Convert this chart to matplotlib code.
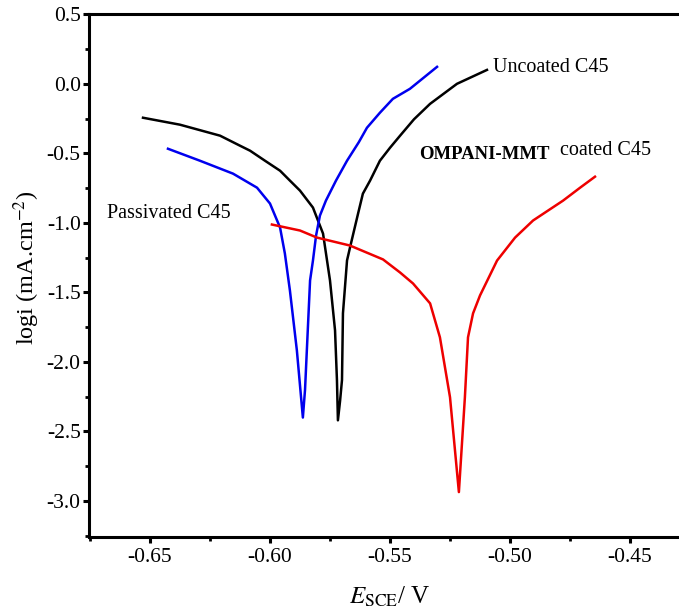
import matplotlib
matplotlib.use('agg')
import matplotlib.pyplot as plt
from matplotlib.ticker import MultipleLocator

plt.rcParams['font.family'] = ['Liberation Serif', 'DejaVu Serif']
plt.rcParams['mathtext.fontset'] = 'stix'

# Uncoated C45 (black)
uncoated_e = [-0.6529, -0.6375, -0.6208, -0.6125, -0.6083, -0.6021, -0.5958, -0.5917,
              -0.5875, -0.5821, -0.5779, -0.5750, -0.5729, -0.5721, -0.5717, -0.5708,
              -0.5700, -0.5696, -0.5679, -0.5667, -0.5633, -0.5613, -0.5583, -0.5542,
              -0.5500, -0.5458, -0.5400, -0.5333, -0.5221, -0.5096]
uncoated_logi = [-0.244, -0.294, -0.373, -0.445, -0.481, -0.553, -0.625, -0.696,
                 -0.768, -0.890, -1.077, -1.414, -1.773, -2.132, -2.420, -2.280,
                 -2.130, -1.650, -1.270, -1.180, -0.933, -0.790, -0.696, -0.553,
                 -0.460, -0.373, -0.255, -0.144, 0.000, 0.100]

# Passivated C45 (blue)
passivated_e = [-0.6425, -0.6292, -0.6154, -0.6054, -0.6000, -0.5958, -0.5938, -0.5917,
                -0.5888, -0.5863, -0.5854, -0.5846, -0.5833, -0.5821, -0.5808, -0.5792,
                -0.5767, -0.5725, -0.5679, -0.5630, -0.5596, -0.5542, -0.5488, -0.5417,
                -0.5304]
passivated_logi = [-0.467, -0.553, -0.646, -0.747, -0.861, -1.034, -1.220, -1.486,
                   -1.917, -2.400, -2.200, -1.900, -1.414, -1.271, -1.091, -0.948,
                   -0.840, -0.696, -0.553, -0.420, -0.316, -0.208, -0.108, -0.036,
                   0.122]

# OMPANI-MMT coated C45 (red)
coated_e = [-0.5992, -0.5875, -0.5804, -0.5667, -0.5529, -0.5458, -0.5404, -0.5333,
            -0.5292, -0.5250, -0.5213, -0.5188, -0.5175, -0.5154, -0.5125, -0.5054,
            -0.4979, -0.4904, -0.4842, -0.4779, -0.4708, -0.4646]
coated_logi = [-1.012, -1.055, -1.106, -1.163, -1.263, -1.357, -1.436, -1.579,
               -1.823, -2.254, -2.936, -2.254, -1.823, -1.651, -1.522, -1.271,
               -1.106, -0.983, -0.912, -0.840, -0.747, -0.668]

fig = plt.figure(figsize=(6.79, 6.13), dpi=100)
ax = fig.add_axes([89 / 679, 76 / 613, 1 - 89 / 679, 523 / 613])

ax.plot(uncoated_e, uncoated_logi, color='black', lw=1.8)
ax.plot(passivated_e, passivated_logi, color='#0000ee', lw=1.8)
ax.plot(coated_e, coated_logi, color='#ee0000', lw=1.8)

ax.set_xlim(-0.6754, -0.4296)
ax.set_ylim(-3.259, 0.502)
ax.xaxis.set_major_locator(MultipleLocator(0.05))
ax.xaxis.set_minor_locator(MultipleLocator(0.025))
ax.yaxis.set_major_locator(MultipleLocator(0.5))
ax.yaxis.set_minor_locator(MultipleLocator(0.25))
ax.xaxis.set_major_formatter(plt.FuncFormatter(lambda v, p: '%.2f' % v))
ax.yaxis.set_major_formatter(plt.FuncFormatter(lambda v, p: '%.1f' % v))

for s in ['left', 'bottom', 'top']:
    ax.spines[s].set_linewidth(2.2)
ax.spines['right'].set_visible(False)
ax.tick_params(which='major', direction='out', length=4, width=2.2, labelsize=15.5, pad=2)
ax.tick_params(which='minor', direction='out', length=3, width=2.0)
ax.tick_params(axis='x', which='major', pad=4)

ax.text(-0.507, 0.115, 'Uncoated C45', fontsize=14.5, va='center', ha='left')
ax.text(-0.5379, -0.505, 'OMPANI-MMT', fontsize=13.5, fontweight='bold', va='center', ha='left')
ax.text(-0.4792, -0.480, 'coated C45', fontsize=14.5, va='center', ha='left')
ax.text(-0.6680, -0.930, 'Passivated C45', fontsize=14.5, va='center', ha='left')

fig.text(27 / 679, 1 - 268 / 613, r'logi (mA.cm$^{-2}$)', rotation=90, fontsize=17.5,
         ha='center', va='center')
fig.text(390 / 679, 1 - 597 / 613, r'$E_{\mathrm{SCE}}$/ V', fontsize=18,
         ha='center', va='center')

fig.savefig('out.png', dpi=100)
